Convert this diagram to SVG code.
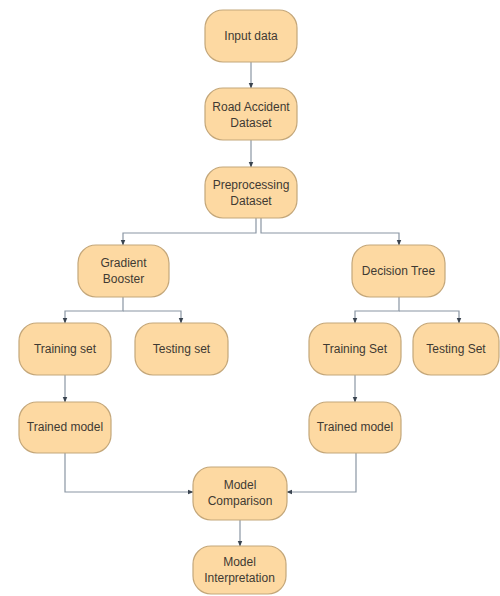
<svg xmlns="http://www.w3.org/2000/svg" width="500" height="596" viewBox="0 0 500 596">
<style>
.box{fill:#fdd9a2;stroke:#c4a77a;stroke-width:1.2}
.t{font-family:"Liberation Sans",Arial,sans-serif;font-size:12px;fill:#3f3a33;text-anchor:middle}
.c{fill:none;stroke:#8a96a3;stroke-width:1.2}
</style>
<defs>
<marker id="ah" viewBox="0 0 10 10" refX="9" refY="5" markerWidth="6" markerHeight="6" orient="auto-start-reverse" markerUnits="userSpaceOnUse">
<path d="M0,1 L10,5 L0,9 z" fill="#3a4450"/>
</marker>
</defs>
<rect width="500" height="596" fill="#ffffff"/>
<g id="connectors">
<path class="c" d="M251,62 V88" marker-end="url(#ah)"/>
<path class="c" d="M251,140 V167" marker-end="url(#ah)"/>
<path class="c" d="M256,218 V233 H123 V245" marker-end="url(#ah)"/>
<path class="c" d="M261,218 V233 H399 V245" marker-end="url(#ah)"/>
<path class="c" d="M123,297 V311 H65 V323" marker-end="url(#ah)"/>
<path class="c" d="M123,311 H181 V323" marker-end="url(#ah)"/>
<path class="c" d="M399,297 V311 H355 V323" marker-end="url(#ah)"/>
<path class="c" d="M399,311 H459 V323" marker-end="url(#ah)"/>
<path class="c" d="M65,375 V402" marker-end="url(#ah)"/>
<path class="c" d="M355,375 V402" marker-end="url(#ah)"/>
<path class="c" d="M65,453 V492 H193" marker-end="url(#ah)"/>
<path class="c" d="M356,453 V492 H287" marker-end="url(#ah)"/>
<path class="c" d="M240,520 V546" marker-end="url(#ah)"/>
</g>
<g id="input-data"><rect class="box" x="205" y="10" width="92" height="52" rx="18"/><text class="t" x="251" y="40">Input data</text></g>
<g id="road-accident-dataset"><rect class="box" x="205" y="88" width="92" height="52" rx="18"/><text class="t" x="251" y="111">Road Accident</text><text class="t" x="251" y="127">Dataset</text></g>
<g id="preprocessing-dataset"><rect class="box" x="205" y="167" width="92" height="51" rx="18"/><text class="t" x="251" y="189">Preprocessing</text><text class="t" x="251" y="205">Dataset</text></g>
<g id="gradient-booster"><rect class="box" x="78" y="245" width="91" height="52" rx="18"/><text class="t" x="123.5" y="267">Gradient</text><text class="t" x="123.5" y="283">Booster</text></g>
<g id="decision-tree"><rect class="box" x="352" y="245" width="93" height="52" rx="18"/><text class="t" x="398.5" y="275">Decision Tree</text></g>
<g id="training-set-left"><rect class="box" x="19" y="323" width="92" height="52" rx="18"/><text class="t" x="65" y="353">Training set</text></g>
<g id="testing-set-left"><rect class="box" x="135" y="323" width="93" height="52" rx="18"/><text class="t" x="181.5" y="353">Testing set</text></g>
<g id="training-set-right"><rect class="box" x="309" y="323" width="92" height="52" rx="18"/><text class="t" x="355" y="353">Training Set</text></g>
<g id="testing-set-right"><rect class="box" x="413" y="323" width="86" height="52" rx="18"/><text class="t" x="456" y="353">Testing Set</text></g>
<g id="trained-model-left"><rect class="box" x="19" y="402" width="92" height="51" rx="18"/><text class="t" x="65" y="431">Trained model</text></g>
<g id="trained-model-right"><rect class="box" x="309" y="402" width="92" height="51" rx="18"/><text class="t" x="355" y="431">Trained model</text></g>
<g id="model-comparison"><rect class="box" x="193" y="467" width="94" height="53" rx="18"/><text class="t" x="240" y="489">Model</text><text class="t" x="240" y="505">Comparison</text></g>
<g id="model-interpretation"><rect class="box" x="193" y="546" width="93" height="48" rx="18"/><text class="t" x="239.5" y="566">Model</text><text class="t" x="239.5" y="582">Interpretation</text></g>
</svg>
